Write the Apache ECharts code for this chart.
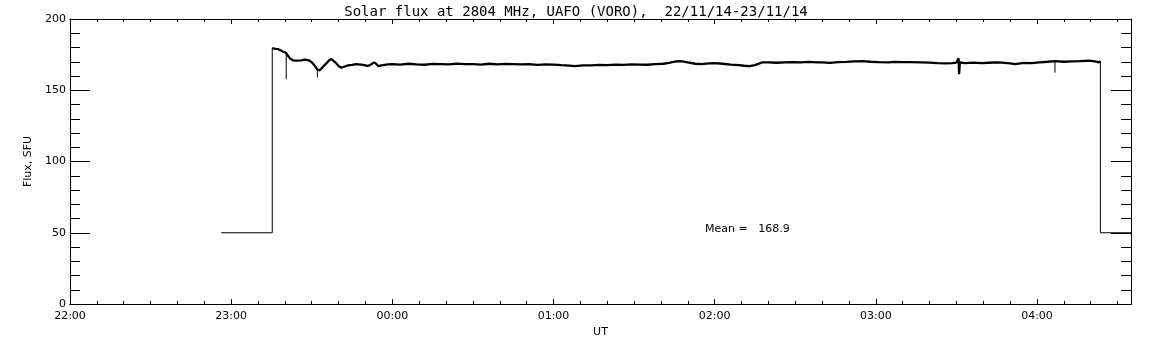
<!DOCTYPE html>
<html>
<head>
<meta charset="utf-8">
<script src="https://cdn.jsdelivr.net/npm/echarts@6/dist/echarts.min.js"></script>
<style>
  html, body { margin: 0; padding: 0; background: #fff; }
  #main { width: 1152px; height: 345px; }
</style>
</head>
<body>
<div id="main"></div>
<script>
// time is minutes after 22:00 UT
const yTicks = [0, 50, 100, 150, 200]
const meanText = 'Mean =   168.9'

// receiver off before / after the session (50 SFU level)
const preMinutes = [56.3, 75.3, 75.3]
const preFlux = [50, 50, 179.5]
const postMinutes = [383.6, 383.6, 395]
const postFlux = [170.5, 50, 50]

// short dips, drawn as thin strokes (pairs: level, bottom)
const spikeMinutes = [80.5, 80.5, 92.1, 92.1, 366.7, 366.7]
const spikeFlux = [176.5, 157.7, 164.5, 159, 170.4, 162.3]

// measured flux
const fluxMinutes = [
  75.3, 76.5, 77.5, 78.5, 79.3, 80.3, 80.7, 81.8, 83, 84.5, 86, 87.5, 88.6, 89.8,
  91, 92.1, 93, 94.2, 95.5, 96.5, 97.3, 98.2, 99.1, 100, 101, 102, 103.5,
  105, 106.5, 108.5, 110, 110.9, 112, 113.2, 114, 114.7, 116, 118.4,
  120, 123, 126, 129, 132, 135, 138, 141, 144, 147, 150, 153, 156, 159, 162, 165, 168,
  171, 174, 177, 180, 183, 186, 188, 191, 194, 197, 200, 203, 206, 209, 212, 215, 218,
  221, 223, 225, 226.5, 228, 230, 232.7, 235, 238, 240, 243, 246, 249, 251, 253, 255,
  257.6, 260, 263, 266, 269, 272, 275, 278, 280, 283, 286, 289, 292, 295, 298, 301,
  304.8, 307, 310, 313, 317, 320, 323, 326, 328.4, 330, 330.8, 331, 331.3, 333, 336,
  339.5, 342, 345, 347, 350, 352, 355, 358, 361, 364, 366.7, 370, 373, 376,
  379.4, 381.5, 383.1, 383.6
]
const fluxValues = [
  179.5, 179, 178.8, 178, 177, 176.5, 176, 172.5, 171, 170.8, 171, 171.5, 171.2, 170,
  167.5, 164.5, 164, 166.5, 169, 171, 172, 170.5, 169, 167, 165.8, 166.5, 167.5,
  167.8, 168.3, 168, 167.5, 167, 168, 169.6, 168.5, 167, 167.5, 168.2,
  168.3, 168.0, 168.6, 168.2, 167.9, 168.5, 168.4, 168.1, 168.7, 168.3, 168.4, 168.0, 168.6, 168.2, 168.5, 168.3, 168.1,
  168.4, 167.8, 168.2, 168.0, 167.6, 167.3, 167.0, 167.5, 167.4, 167.8, 167.6, 168.0, 167.8, 168.2, 168.0, 167.9, 168.4,
  168.6, 169.2, 170.0, 170.5, 170.2, 169.5, 168.6, 168.4, 168.8, 169.0, 168.6, 168.0, 167.6, 167.2, 167.0, 167.6,
  169.5, 169.5, 169.3, 169.6, 169.8, 169.5, 169.9, 169.6, 169.6, 169.2, 169.7, 169.9, 170.2, 170.4, 170.0, 169.8,
  169.6, 169.9, 169.7, 169.8, 169.6, 169.4, 169.0, 168.8, 169.0, 169.4, 172.4, 161.2, 169.5, 169.0, 169.4,
  169.0, 169.3, 169.6, 169.4, 168.8, 168.4, 169.2, 169.0, 169.6, 170.0, 170.4, 170.0, 170.3, 170.5,
  170.8, 170.2, 169.6, 170.5
]

const font = 'DejaVu Sans'
const zip = (xs, ys) => xs.map((x, i) => [x, ys[i]])
const hourLabel = v => String((22 + Math.floor(v / 60)) % 24).padStart(2, '0') + ':00'

// spike pairs separated by gaps
const spikeData = []
for (let i = 0; i < spikeMinutes.length; i += 2) {
  spikeData.push([spikeMinutes[i], spikeFlux[i]], [spikeMinutes[i + 1], spikeFlux[i + 1]], '-')
}

function xAx(pos, interval, len, labels) {
  return {
    type: 'value', position: pos, min: 0, max: 395, interval: interval,
    axisLine: { show: true, onZero: false, lineStyle: { color: '#000', width: 1 } },
    axisTick: { show: true, inside: true, length: len, lineStyle: { color: '#000' } },
    axisLabel: {
      show: labels, color: '#000', fontFamily: font, fontSize: 11, margin: 7,
      showMaxLabel: false, formatter: hourLabel
    },
    splitLine: { show: false }
  }
}
function yAx(pos, labels) {
  return {
    type: 'value', position: pos, min: 0, max: 200, interval: 50,
    axisLine: { show: true, onZero: false, lineStyle: { color: '#000', width: 1 } },
    axisTick: { show: true, inside: true, length: 20, lineStyle: { color: '#000' } },
    minorTick: { show: true, splitNumber: 5, length: 10, lineStyle: { color: '#000' } },
    axisLabel: {
      show: labels, color: '#000', fontFamily: font, fontSize: 11, margin: 4,
      formatter: v => (yTicks.includes(v) ? String(v) : '')
    },
    splitLine: { show: false }
  }
}

const chart = echarts.init(document.getElementById('main'), null, { renderer: 'canvas' })
const x0 = xAx('bottom', 60, 5, true)
x0.name = 'UT'
x0.nameLocation = 'middle'
x0.nameGap = 16
x0.nameTextStyle = { color: '#000', fontFamily: font, fontSize: 11 }
const y0 = yAx('left', true)
y0.name = 'Flux, SFU'
y0.nameLocation = 'middle'
y0.nameGap = 32
y0.nameTextStyle = { color: '#000', fontFamily: font, fontSize: 11 }

chart.setOption({
  animation: false,
  backgroundColor: '#fff',
  title: {
    text: 'Solar flux at 2804 MHz, UAFO (VORO),  22/11/14-23/11/14',
    left: 'center', top: 0,
    textStyle: { color: '#000', fontFamily: 'DejaVu Sans Mono', fontSize: 14, fontWeight: 'normal' }
  },
  grid: { left: 70, right: 21, top: 19, bottom: 41, containLabel: false },
  xAxis: [
    x0,
    xAx('bottom', 10, 3, false),
    xAx('top', 60, 5, false),
    xAx('top', 10, 3, false)
  ],
  yAxis: [y0, yAx('right', false)],
  graphic: [{
    type: 'text', left: 705, top: 224,
    style: { text: meanText, fill: '#000', font: '11px "DejaVu Sans"' }
  }],
  series: [
    {
      type: 'line', data: zip(preMinutes, preFlux), showSymbol: false,
      lineStyle: { color: '#000', width: 1 }, silent: true
    },
    {
      type: 'line', data: zip(fluxMinutes, fluxValues), showSymbol: false,
      lineStyle: { color: '#000', width: 2.3 }, silent: true
    },
    {
      type: 'line', data: spikeData, showSymbol: false, connectNulls: false,
      lineStyle: { color: '#000', width: 1 }, silent: true
    },
    {
      type: 'line', data: zip(postMinutes, postFlux), showSymbol: false,
      lineStyle: { color: '#000', width: 1 }, silent: true
    }
  ]
})
</script>
</body>
</html>
